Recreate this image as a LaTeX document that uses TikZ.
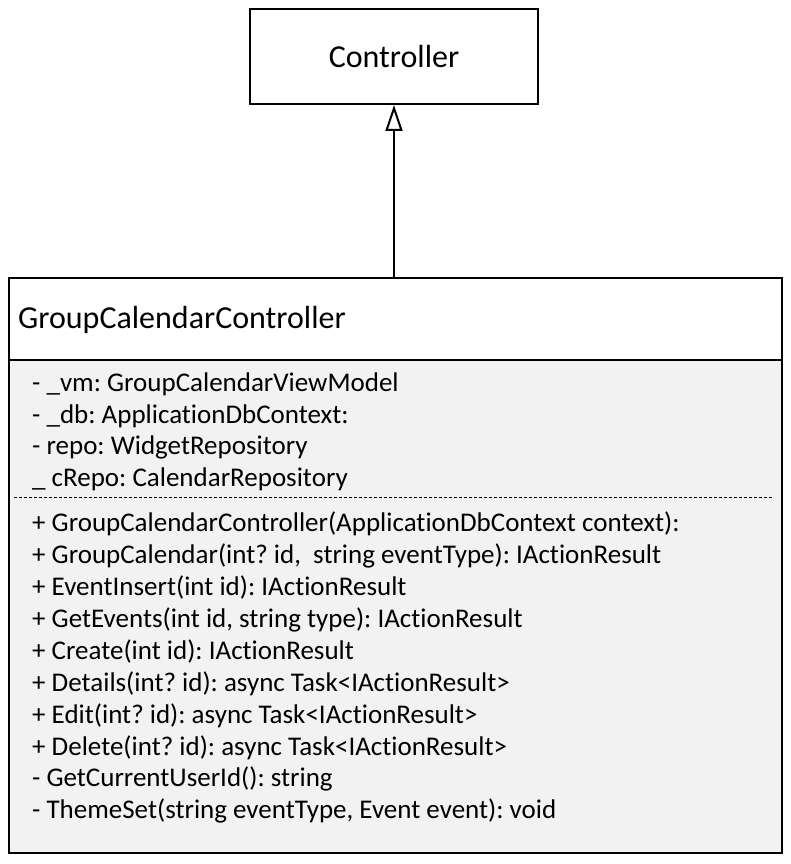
\documentclass[tikz,border=0pt]{standalone}
\usepackage{fontspec}
\setmainfont{Carlito}[Ligatures={NoCommon,NoContextual}]
\usetikzlibrary{arrows.meta}
\definecolor{bodygray}{HTML}{F2F2F2}
\tikzset{
  box/.style={draw=black, line width=2pt, rectangle, inner sep=0pt},
  title/.style={font=\fontsize{32}{38}\selectfont\frenchspacing},
  member/.style={anchor=base west, inner sep=0pt, font=\fontsize{27}{32}\selectfont\frenchspacing},
  inherit/.style={line width=2pt, -{Triangle[open, length=26pt, width=17pt, line width=2pt]}},
  sep/.style={line width=1pt, dash pattern=on 3pt off 2pt}
}
\begin{document}
\begin{tikzpicture}[x=1pt, y=-1pt]
\useasboundingbox (0,0) rectangle (790,864);
% body fill
\fill[bodygray] (8,360) rectangle (781,852);
% class box
\node[box, minimum width=773pt, minimum height=575pt, anchor=north west] (gcc) at (8,277) {};
\draw[line width=2pt] (8,360) -- (781,360);
\node[title, anchor=base west, inner sep=0pt] (gccname) at (18,328) {GroupCalendarController};
% controller box
\node[box, minimum width=288pt, minimum height=95pt, title] (ctrl) at (394,56.5) {Controller};
% inheritance arrow
\draw[inherit] (gcc.north -| ctrl.south) -- (ctrl.south);
% attributes
\node[member] (a1) at (32,391) {- \_vm: GroupCalendarViewModel};
\node[member] (a2) at (32,423) {- \_db: ApplicationDbContext:};
\node[member] (a3) at (32,454) {- repo: WidgetRepository};
\node[member] (a4) at (32,486) {\_ cRepo: CalendarRepository};
% separator
\coordinate (s1) at (14,497);
\coordinate (s2) at (773,497);
\draw[sep] (s1) -- (s2);
% methods
\node[member] (m1) at (32,531) {+ GroupCalendarController(ApplicationDbContext context):};
\node[member] (m2) at (32,563) {+ GroupCalendar(int? id,\ \ string eventType): IActionResult};
\node[member] (m3) at (32,595) {+ EventInsert(int id): IActionResult};
\node[member] (m4) at (32,627) {+ GetEvents(int id, string type): IActionResult};
\node[member] (m5) at (32,659) {+ Create(int id): IActionResult};
\node[member] (m6) at (32,691) {+ Details(int? id): async Task<IActionResult>};
\node[member] (m7) at (32,723) {+ Edit(int? id): async Task<IActionResult>};
\node[member] (m8) at (32,755) {+ Delete(int? id): async Task<IActionResult>};
\node[member] (m9) at (32,786) {- GetCurrentUserId(): string};
\node[member] (m10) at (32,818) {- ThemeSet(string eventType, Event event): void};
\end{tikzpicture}
\end{document}
